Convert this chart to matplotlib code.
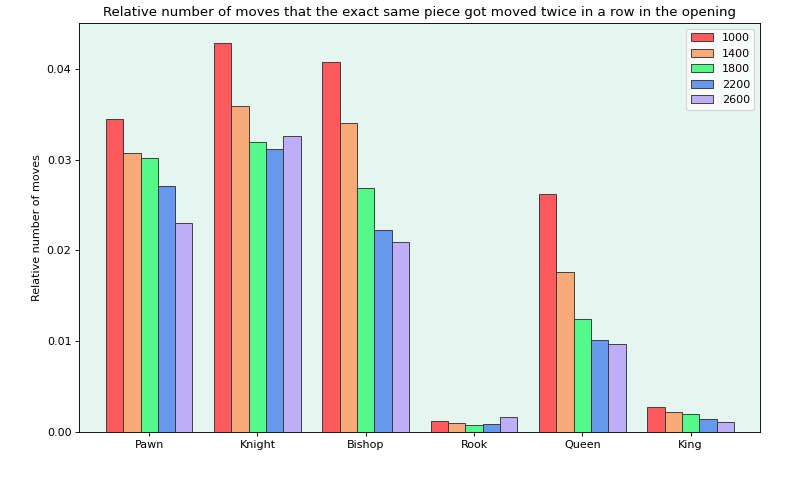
import numpy as np
import matplotlib
matplotlib.use("Agg")
import matplotlib.pyplot as plt

pieces = ["Pawn", "Knight", "Bishop", "Rook", "Queen", "King"]
ratings = ["1000", "1400", "1800", "2200", "2600"]

r1000 = [0.0345, 0.0429, 0.0407, 0.00118, 0.0262, 0.0028]
r1400 = [0.0307, 0.0359, 0.0340, 0.00096, 0.0176, 0.0022]
r1800 = [0.0302, 0.0319, 0.0269, 0.00077, 0.0125, 0.00195]
r2200 = [0.0271, 0.0312, 0.0222, 0.00085, 0.0101, 0.00144]
r2600 = [0.0230, 0.0326, 0.0209, 0.00162, 0.0097, 0.00107]

series = [r1000, r1400, r1800, r2200, r2600]
colors = ["#fe5a5d", "#f7aa78", "#55f88b", "#6699ee", "#bdaef8"]

# 10x6 a 80 dpi -> 800x480
fig, ax = plt.subplots(figsize=(10, 6), dpi=80)
fig.subplots_adjust(left=0.099, right=0.95, top=0.952, bottom=0.1)
ax.set_facecolor("#e5f5ef")

x = np.arange(len(pieces))
width = 0.16
for i, (vals, lab, col) in enumerate(zip(series, ratings, colors)):
    ax.bar(x + (i - 2) * width, vals, width, label=lab, color=col,
           edgecolor="#333333", linewidth=0.8)

ax.set_xlim(-0.646, 5.64)
ax.set_xticks(x)
ax.set_xticklabels(pieces)
ax.set_ylabel("Relative number of moves")
ax.set_title("Relative number of moves that the exact same piece got moved twice in a row in the opening")
ax.legend(loc="upper right")

fig.savefig("out.png", dpi=80)
